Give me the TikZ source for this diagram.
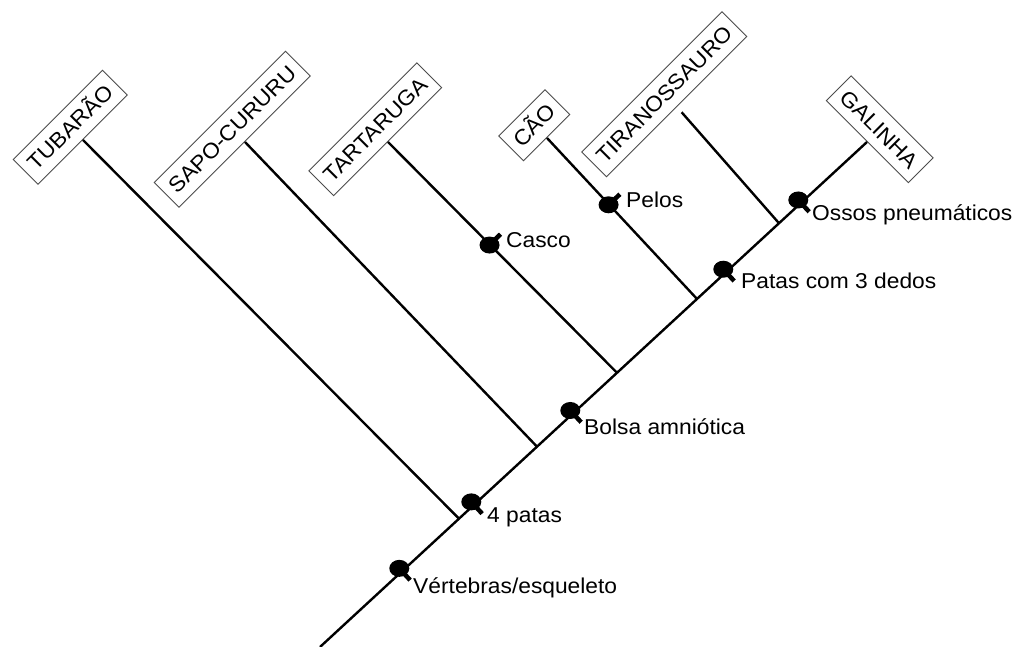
\documentclass[tikz,border=0pt]{standalone}
\usepackage{fontspec}
\setmainfont{Liberation Sans}
\newfontfamily\arialw[FakeStretch=1.06]{Liberation Sans}
\usetikzlibrary{calc}
\newcommand\traitmark[4]{%
  \fill ($(#1)+(#2+180:#3)$) ellipse [x radius=10, y radius=8.5];
  \draw[stemline] ($(#1)+(#2+180:#3)$) -- ($(#1)+(#2:#4)$);
}
\begin{document}
\begin{tikzpicture}[x=1pt,y=1pt,
  lbl/.style={draw=black!70, line width=0.9pt, font=\arialw\fontsize{21.5}{26}\selectfont,
    text height=15.5pt, text depth=0pt, inner xsep=8pt, inner ysep=9.8pt, anchor=south, fill=white},
  br/.style={line width=2.4pt},
  trait/.style={font=\arialw\fontsize{21.5}{26}\selectfont, anchor=base west, inner sep=0pt},
  stemline/.style={line width=4.5pt}]
\useasboundingbox (0,0) rectangle (1020,647);

% taxa labels
\node[lbl, rotate=45] (tub) at (83,507) {TUBARÃO};
\node[lbl, rotate=45] (sapo) at (245,505) {SAPO-CURURU};
\node[lbl, rotate=45] (tart) at (388,505) {TARTARUGA};
\node[lbl, rotate=45] (cao) at (547,509) {CÃO};
\node[lbl, rotate=45] (tira) at (677,540) {TIRANOSSAURO};
\node[lbl, rotate=-45] (gal) at (867,505) {GALINHA};

% trunk and junctions
\coordinate (root) at (320,0);
\coordinate (jtub) at (459,128.33);
\coordinate (jsapo) at (537,200.34);
\coordinate (jtart) at (617,274.20);
\coordinate (jcao) at (697,348.05);
\coordinate (jtira) at (779,423.76);

\draw[br] (root) -- (gal.south);
\draw[br] (tub.south) -- (jtub);
\draw[br] (sapo.south) -- (jsapo);
\draw[br] (tart.south) -- (jtart);
\draw[br] (cao.south) -- (jcao);
\draw[br, shorten <=7pt] (tira.south) -- (jtira);

% character feet
\coordinate (fvert) at (402,75.70);
\coordinate (fpatas) at (474,142.18);
\coordinate (fbolsa) at (573,233.57);
\coordinate (fdedos) at (726,374.83);
\coordinate (fossos) at (801,444.07);
\coordinate (fcasco) at ($(tart.south)!0.445!(jtart)$);
\coordinate (fpelos) at ($(cao.south)!0.413!(jcao)$);

\traitmark{fvert}{-47.3}{4}{12}
\traitmark{fpatas}{-47.3}{4}{12}
\traitmark{fbolsa}{-47.3}{4}{12}
\traitmark{fdedos}{-47.3}{4}{12}
\traitmark{fossos}{-47.3}{4}{12}
\traitmark{fcasco}{44.8}{0.5}{15}
\traitmark{fpelos}{43}{0.5}{15}

% character labels
\node[trait] (lvert) at (413,53.7) {Vértebras/esqueleto};
\node[trait] (lpatas) at (487,124.3) {4 patas};
\node[trait] (lbolsa) at (584,212) {Bolsa amniótica};
\node[trait] (lcasco) at (506,399.7) {Casco};
\node[trait] (lpelos) at (626,439.7) {Pelos};
\node[trait] (ldedos) at (741,358.7) {Patas com 3 dedos};
\node[trait] (lossos) at (812,426) {Ossos pneumáticos};
\end{tikzpicture}
\end{document}
